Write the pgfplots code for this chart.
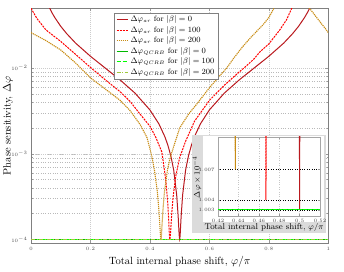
\documentclass[border=0pt]{standalone}
\usepackage{pgfplots}
\pgfplotsset{compat=1.18}
\definecolor{dred}{RGB}{185,25,30}
\definecolor{mygold}{RGB}{200,140,20}
\definecolor{qgreen}{RGB}{0,185,0}
\definecolor{qlime}{RGB}{0,255,0}
\definecolor{qolive}{RGB}{160,200,60}
\begin{document}
\begin{tikzpicture}
\useasboundingbox (-31pt,-28.7pt) rectangle (313pt,243.3pt);
\begin{axis}[
  at={(0pt,0pt)}, anchor=south west, scale only axis,
  width=297.3pt, height=235pt,
  xmin=0, xmax=1, ymode=log, ymin=0.9e-4, ymax=0.05,
  xtick={0,0.2,0.4,0.6,0.8,1},
  ytick={1e-4,1e-3,1e-2},
  axis line style={gray},
  tick style={gray!80, thin},
  tick align=inside,
  major tick length=3pt, minor tick length=1.5pt,
  xmajorgrids, ymajorgrids, yminorgrids,
  major grid style={gray!40, dash pattern=on 1pt off 1pt, line width=0.4pt},
  minor grid style={gray!55, dotted, line width=0.3pt},
  ticklabel style={font=\fontsize{5}{6}\selectfont, text=black!70},
  xlabel={Total internal phase shift, $\varphi/\pi$},
  ylabel={Phase sensitivity, $\Delta\varphi$},
  label style={font=\fontsize{10.5}{12}\selectfont},
  xlabel style={at={(axis description cs:0.5,-0.0796)}, anchor=center},
  ylabel style={at={(axis description cs:-0.0774,0.5)}, anchor=center},
  legend style={at={(axis description cs:0.279,0.981)}, anchor=north west,
    font=\fontsize{7.8}{8.8}\selectfont, draw=gray, fill=white,
    inner xsep=2pt, inner ysep=1pt, row sep=-1pt},
  legend cell align=left,
  legend image code/.code={\draw[#1] (0cm,0cm) -- (0.4cm,0cm);},
]
% Delta phi ar, |beta|=0
\addplot[draw=dred, line width=1pt] coordinates {
(0.05,0.0631)(0.06,0.0524)(0.07,0.0447)(0.08,0.0390)(0.10,0.0308)(0.12,0.0253)
(0.15,0.0196)(0.20,0.01376)(0.25,0.0100)(0.30,0.00727)(0.35,0.00510)(0.40,0.00325)
(0.43,0.00224)(0.45,0.00159)(0.46,0.00127)(0.47,0.000956)(0.48,0.000645)
(0.49,0.000330)(0.495,0.000186)(0.498,0.0001184)(0.499,0.0001051)(0.5,0.0001003)
(0.501,0.0001051)(0.502,0.0001184)(0.505,0.000186)(0.51,0.000330)(0.52,0.000645)
(0.53,0.000956)(0.54,0.00127)(0.55,0.00159)(0.57,0.00224)(0.60,0.00325)
(0.65,0.00510)(0.70,0.00727)(0.75,0.0100)(0.80,0.01376)(0.85,0.0196)(0.88,0.0253)
(0.90,0.0308)(0.92,0.0390)(0.93,0.0447)(0.94,0.0524)(0.95,0.0631)};
\addlegendentry{$\Delta\varphi_{ar}$ for $|\beta|=0$}
% |beta|=100
\addplot[draw=red, line width=1pt, dash pattern=on 2pt off 1pt] coordinates {
(0.000,0.050)(0.020,0.038)(0.050,0.028)(0.100,0.0205)(0.150,0.0145)(0.200,0.0102)
(0.250,0.0073)(0.300,0.0053)(0.333,0.0041)(0.367,0.0029)(0.400,0.0021)(0.420,0.00155)
(0.440,0.00105)(0.450,0.000603)(0.455,0.00043)(0.460,0.000265)(0.463,0.000172)
(0.465,0.000122)(0.466,0.0001063)(0.467,0.0001004)(0.468,0.000104)(0.470,0.000129)
(0.473,0.000191)(0.478,0.000313)(0.487,0.00055)(0.500,0.00090)(0.520,0.00140)
(0.550,0.00240)(0.600,0.00420)(0.650,0.00630)(0.700,0.00900)(0.720,0.0103)
(0.750,0.0128)(0.770,0.0155)(0.800,0.0192)(0.837,0.0280)(0.860,0.0370)
(0.877,0.0500)(0.900,0.0800)};
\addlegendentry{$\Delta\varphi_{ar}$ for $|\beta|=100$}
% |beta|=200
\addplot[draw=mygold, line width=1.1pt, dash pattern=on 1.2pt off 0.8pt] coordinates {
(0.000,0.0260)(0.050,0.0210)(0.100,0.0163)(0.150,0.0115)(0.200,0.0077)(0.250,0.0057)
(0.300,0.0042)(0.333,0.0032)(0.367,0.0022)(0.390,0.00155)(0.406,0.00095)
(0.415,0.00065)(0.425,0.00036)(0.430,0.000225)(0.433,0.000154)(0.435,0.000116)
(0.436,0.0001048)(0.437,0.0001007)(0.438,0.0001048)(0.439,0.000116)(0.441,0.000154)
(0.444,0.000225)(0.449,0.00036)(0.459,0.00065)(0.468,0.00090)(0.500,0.00200)
(0.530,0.00290)(0.560,0.00390)(0.600,0.00590)(0.630,0.00780)(0.658,0.0100)
(0.680,0.0128)(0.710,0.0175)(0.740,0.0230)(0.780,0.0320)(0.800,0.0390)
(0.817,0.0500)(0.850,0.0800)};
\addlegendentry{$\Delta\varphi_{ar}$ for $|\beta|=200$}
% QCRB
\addplot[draw=qgreen, line width=0.9pt] coordinates {(0,1.003e-4)(1,1.003e-4)};
\addlegendentry{$\Delta\varphi_{QCRB}$ for $|\beta|=0$}
\addplot[draw=qlime, line width=0.9pt, dash pattern=on 4pt off 2pt] coordinates {(0,1.003e-4)(1,1.003e-4)};
\addlegendentry{$\Delta\varphi_{QCRB}$ for $|\beta|=100$}
\addplot[draw=qolive, line width=0.9pt, dash pattern=on 4pt off 1.5pt on 1pt off 1.5pt] coordinates {(0,1.003e-4)(1,1.003e-4)};
\addlegendentry{$\Delta\varphi_{QCRB}$ for $|\beta|=200$}
% gold branch beyond divergence
\addplot[draw=mygold, line width=1.1pt, dash pattern=on 1.2pt off 0.8pt, forget plot] coordinates {
(0.930,0.070)(0.937,0.050)(0.950,0.0437)(0.970,0.0355)(0.990,0.0290)(1.000,0.0260)};
\end{axis}
% inset background
\fill[gray!28] (160.7pt,10.6pt) rectangle (295pt,108.3pt);
\fill[white] (172pt,21.3pt) rectangle (293pt,107.3pt);
\node[rotate=90, font=\fontsize{8.5}{10}\selectfont] at (166pt,66pt) {$\Delta\varphi\times10^{-4}$};
\node[font=\fontsize{8.4}{10}\selectfont] at (233pt,15.5pt) {Total internal phase shift, $\varphi/\pi$};
\begin{axis}[
  at={(187pt,27.3pt)}, anchor=south west, scale only axis,
  width=102pt, height=79pt,
  xmin=0.42, xmax=0.52, ymin=1.0024, ymax=1.0102,
  xtick={0.42,0.44,0.46,0.48,0.5,0.52},
  ytick={1.003,1.004,1.007},
  yticklabel style={/pgf/number format/fixed, /pgf/number format/precision=3, /pgf/number format/fixed zerofill},
  xticklabel style={/pgf/number format/fixed, /pgf/number format/precision=2},
  scaled ticks=false,
  axis line style={gray!70},
  tick style={gray!80, thin}, tick align=inside, major tick length=2pt,
  ticklabel style={font=\fontsize{5}{6}\selectfont, text=black!75},
  xmajorgrids, ymajorgrids,
  x grid style={gray!45, dotted},
  y grid style={black, dotted, line width=0.5pt},
  axis background/.style={fill=white},
]
\addplot[draw=mygold, line width=1.1pt, dash pattern=on 1.2pt off 0.8pt] coordinates {(0.436,1.048)(0.437,1.007)(0.438,1.048)};
\addplot[draw=red, line width=1pt, dash pattern=on 2pt off 1pt] coordinates {(0.466,1.063)(0.467,1.004)(0.468,1.04)};
\addplot[draw=dred, line width=1pt] coordinates {(0.499,1.051)(0.5,1.003)(0.501,1.051)};
\addplot[draw=qgreen, line width=0.9pt] coordinates {(0.42,1.003)(0.52,1.003)};
\addplot[draw=qlime, line width=0.9pt, dash pattern=on 4pt off 1pt] coordinates {(0.42,1.003)(0.52,1.003)};
\end{axis}
\end{tikzpicture}
\end{document}
